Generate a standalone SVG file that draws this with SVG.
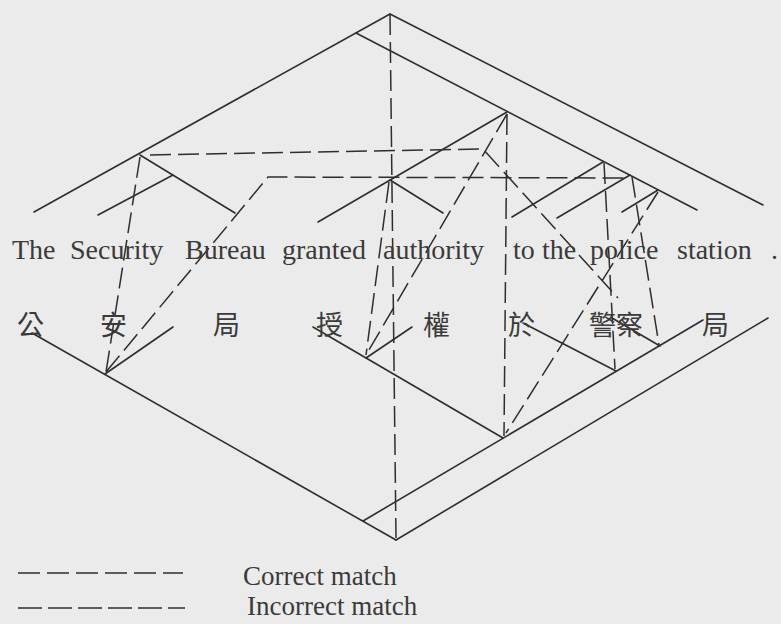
<svg xmlns="http://www.w3.org/2000/svg" width="781" height="624" viewBox="0 0 781 624">
<style>
.bg{fill:#ebebeb}
.t{stroke:#2e2e2e;stroke-width:1.6;fill:none;stroke-linecap:round}
.d{stroke:#2e2e2e;stroke-width:1.5;fill:none;stroke-dasharray:21 7}
.en{font-family:"Liberation Serif","Times New Roman",serif;font-size:28px;fill:#3a3a3a}
.lg{font-family:"Liberation Serif","Times New Roman",serif;font-size:27px;fill:#3a3a3a}
.zh{font-family:"Noto Sans CJK TC","Noto Sans CJK SC",sans-serif;font-size:27px;fill:#3a3a3a}
</style>
<rect class="bg" x="0" y="0" width="781" height="624"/>

<g id="english-tree" class="t">
<line x1="390" y1="14" x2="34" y2="212"/>
<line x1="390" y1="14" x2="763" y2="205"/>
<line x1="356" y1="33" x2="697" y2="210"/>
<line x1="140" y1="155" x2="235" y2="213"/>
<line x1="173" y1="175" x2="98" y2="215"/>
<line x1="507" y1="112" x2="318" y2="222"/>
<line x1="390" y1="180" x2="443" y2="213"/>
<line x1="603" y1="162" x2="512" y2="217"/>
<line x1="630" y1="175" x2="557" y2="218"/>
<line x1="658" y1="190" x2="622" y2="212"/>
</g>

<g id="chinese-tree" class="t">
<line x1="32" y1="333" x2="396" y2="540"/>
<line x1="396" y1="540" x2="768" y2="318"/>
<line x1="363" y1="521" x2="703" y2="320"/>
<line x1="105" y1="374" x2="173" y2="327"/>
<line x1="313" y1="327" x2="503" y2="438"/>
<line x1="366" y1="358" x2="412" y2="327"/>
<line x1="523" y1="323" x2="616" y2="371"/>
<line x1="612" y1="318" x2="660" y2="346"/>
</g>

<g id="connectors" class="d">
<polyline points="150,155 483,149 618,298"/>
<polyline points="106,372 268,177 627,178"/>
<line x1="390" y1="14" x2="396" y2="538"/>
<line x1="507" y1="114" x2="504" y2="436"/>
<line x1="507" y1="114" x2="366" y2="355"/>
<line x1="389" y1="182" x2="366" y2="355"/>
<line x1="604" y1="163" x2="615" y2="369"/>
<line x1="632" y1="177" x2="659" y2="345"/>
<line x1="658" y1="192" x2="506" y2="433"/>
<line x1="140" y1="157" x2="106" y2="372"/>
</g>

<g id="w-The"><text class="en" x="12" y="259">The</text></g>
<g id="w-Security"><text class="en" x="70" y="259">Security</text></g>
<g id="w-Bureau"><text class="en" x="185" y="259">Bureau</text></g>
<g id="w-granted"><text class="en" x="282" y="259">granted</text></g>
<g id="w-authority"><text class="en" x="383" y="259">authority</text></g>
<g id="w-to"><text class="en" x="513" y="259">to</text></g>
<g id="w-the"><text class="en" x="542" y="259">the</text></g>
<g id="w-police"><text class="en" x="590" y="259">police</text></g>
<g id="w-station"><text class="en" x="677" y="259">station</text></g>
<g id="w-period"><text class="en" x="771" y="259">.</text></g>

<g id="c-gong"><text class="zh" x="17" y="335">公</text></g>
<g id="c-an"><text class="zh" x="100" y="335">安</text></g>
<g id="c-ju1"><text class="zh" x="213" y="335">局</text></g>
<g id="c-shou"><text class="zh" x="316" y="335">授</text></g>
<g id="c-quan"><text class="zh" x="423" y="335">權</text></g>
<g id="c-yu"><text class="zh" x="508" y="335">於</text></g>
<g id="c-jingcha"><text class="zh" x="589" y="335">警察</text></g>
<g id="c-ju2"><text class="zh" x="702" y="335">局</text></g>

<g id="legend">
<line x1="18" y1="573" x2="183" y2="573" stroke="#2e2e2e" stroke-width="1.6" stroke-dasharray="22 7"/>
<text class="lg" x="243" y="585">Correct match</text>
<line x1="18" y1="608" x2="185" y2="608" stroke="#2e2e2e" stroke-width="1.6" stroke-dasharray="24 6"/>
<text class="lg" x="247" y="615">Incorrect match</text>
</g>
</svg>
